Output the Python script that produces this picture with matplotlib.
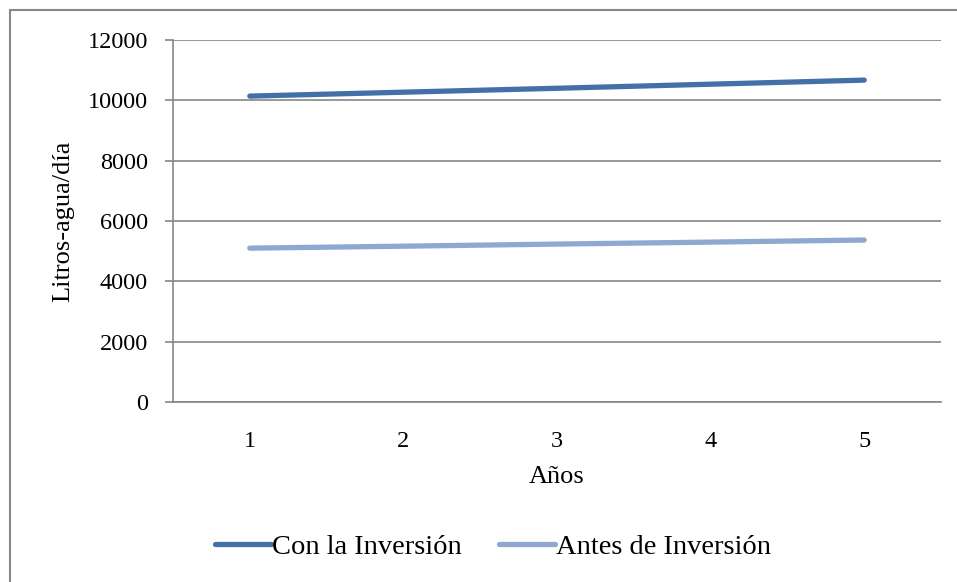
import matplotlib
matplotlib.use('Agg')
import matplotlib.pyplot as plt
from matplotlib.patches import Rectangle

# data
years = [1, 2, 3, 4, 5]
con_inversion = [10140, 10270, 10400, 10535, 10670]
antes_inversion = [5100, 5165, 5235, 5300, 5370]
series_labels = ['Con la Inversión', 'Antes de Inversión']
yticks = [0, 2000, 4000, 6000, 8000, 10000, 12000]

plt.rcParams['font.family'] = ['Liberation Serif', 'DejaVu Serif']

W, H = 957, 582
fig = plt.figure(figsize=(W / 100., H / 100.), dpi=100)
ax = fig.add_axes([173. / W, 1 - 402. / H, 768. / W, 362. / H])

grid_col = '#868686'
ax.plot(years, con_inversion, color='#4470A8', lw=3.8,
        solid_capstyle='round', label=series_labels[0], zorder=3)
ax.plot(years, antes_inversion, color='#8DA9D0', lw=3.8,
        solid_capstyle='round', label=series_labels[1], zorder=3)

ax.set_xlim(0.5, 5.5)
ax.set_ylim(0, 12000)
ax.set_xticks(years)
ax.set_yticks(yticks)
ax.yaxis.grid(True, color=grid_col, lw=1.2)
ax.set_axisbelow(True)

for s in ['top', 'right']:
    ax.spines[s].set_visible(False)
for s in ['left', 'bottom']:
    ax.spines[s].set_color(grid_col)
    ax.spines[s].set_linewidth(1.2)

ax.tick_params(axis='y', length=6, width=1.2, color=grid_col, pad=12,
               labelsize=17.5)
ax.tick_params(axis='x', length=0, pad=21, labelsize=17.5)

ax.set_ylabel('Litros-agua/día', fontsize=19, labelpad=10)
ax.set_xlabel('Años', fontsize=19, labelpad=10)

leg = ax.legend(loc='center', bbox_to_anchor=(0.417, -0.40), ncol=2,
                frameon=False, fontsize=20.5, handlelength=1.95,
                handletextpad=0.05, columnspacing=1.3)

# outer chart border
fig.patches.append(Rectangle((10. / W, -0.1), 1.2, 1 - 10. / H + 0.1,
                             transform=fig.transFigure, fill=False,
                             edgecolor=grid_col, lw=1.5))

fig.savefig('out.png', dpi=100)
